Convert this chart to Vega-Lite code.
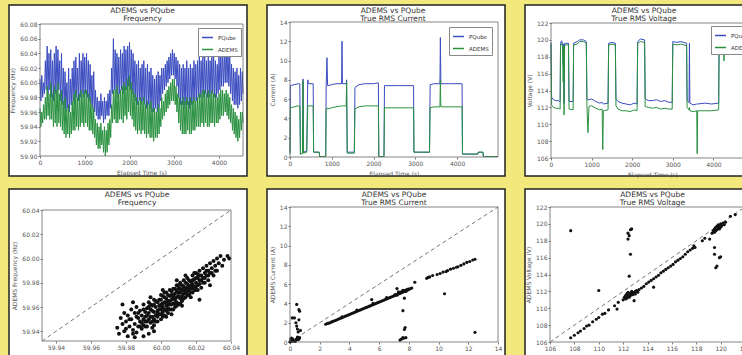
{
"$schema": "https://vega.github.io/schema/vega-lite/v6.json",
"background": "#f3e87b",
"padding": {"left": 8, "top": 4, "right": 0, "bottom": 0},
"config": {
 "view": {"fill": "white", "stroke": "#222", "strokeWidth": 1.5},
 "title": {"fontSize": 7.5, "font": "DejaVu Sans", "fontWeight": "normal", "color": "#333", "lineHeight": 7.5, "frame": "group", "anchor": "middle"},
 "axis": {"labelFont": "DejaVu Sans", "labelFontSize": 6, "labelColor": "#555", "titleFont": "DejaVu Sans", "titleFontSize": 6, "titleFontWeight": "normal", "titleColor": "#555", "domain": false, "grid": false, "tickColor": "#777", "tickSize": 2, "labelPadding": 1, "titlePadding": 4, "labelFlush": false, "labelOverlap": false},
 "legend": {"labelFont": "DejaVu Sans", "labelFontSize": 5.5, "labelColor": "#333", "symbolType": "stroke", "symbolStrokeWidth": 1.5, "symbolSize": 120, "fillColor": "white", "strokeColor": "#888", "padding": 3, "rowPadding": 2}
},
"datasets": {
 "freq": [
{"t":0,"P":60.005,"A":59.965},{"t":20,"P":59.975,"A":59.94},{"t":40,"P":60.01,"A":59.96},{"t":60,"P":59.98,"A":59.945},{"t":80,"P":60.0,"A":59.97},{"t":100,"P":59.985,"A":59.95},{"t":120,"P":60.03,"A":59.98},{"t":140,"P":59.99,"A":59.95},{"t":160,"P":60.05,"A":59.995},{"t":180,"P":59.985,"A":59.955},{"t":200,"P":60.04,"A":59.985},{"t":220,"P":59.99,"A":59.95},{"t":240,"P":60.045,"A":60.0},{"t":260,"P":59.98,"A":59.95},{"t":280,"P":60.03,"A":59.985},{"t":300,"P":59.975,"A":59.94},{"t":320,"P":60.04,"A":59.995},{"t":340,"P":59.985,"A":59.945},{"t":360,"P":60.05,"A":59.99},{"t":380,"P":59.98,"A":59.94},{"t":400,"P":60.045,"A":60.0},{"t":420,"P":59.99,"A":59.945},{"t":440,"P":60.03,"A":59.985},{"t":460,"P":59.975,"A":59.94},{"t":480,"P":60.04,"A":59.99},{"t":500,"P":59.97,"A":59.935},{"t":520,"P":60.02,"A":59.975},{"t":540,"P":59.965,"A":59.93},{"t":560,"P":60.015,"A":59.98},{"t":580,"P":59.96,"A":59.925},{"t":600,"P":60.0,"A":59.965},{"t":620,"P":59.965,"A":59.93},{"t":640,"P":60.02,"A":59.97},{"t":660,"P":59.96,"A":59.925},{"t":680,"P":60.005,"A":59.96},{"t":700,"P":59.97,"A":59.93},{"t":720,"P":60.02,"A":59.975},{"t":740,"P":59.975,"A":59.935},{"t":760,"P":60.03,"A":59.985},{"t":780,"P":59.97,"A":59.935},{"t":800,"P":60.035,"A":59.99},{"t":820,"P":59.98,"A":59.94},{"t":840,"P":60.02,"A":59.98},{"t":860,"P":59.975,"A":59.935},{"t":880,"P":60.04,"A":59.985},{"t":900,"P":59.98,"A":59.94},{"t":920,"P":60.03,"A":59.99},{"t":940,"P":59.985,"A":59.945},{"t":960,"P":60.04,"A":59.985},{"t":980,"P":59.98,"A":59.94},{"t":1000,"P":60.035,"A":59.99},{"t":1020,"P":59.985,"A":59.945},{"t":1040,"P":60.04,"A":59.99},{"t":1060,"P":59.98,"A":59.94},{"t":1080,"P":60.03,"A":59.985},{"t":1100,"P":59.975,"A":59.935},{"t":1120,"P":60.025,"A":59.98},{"t":1140,"P":59.97,"A":59.935},{"t":1160,"P":60.01,"A":59.97},{"t":1180,"P":59.965,"A":59.93},{"t":1200,"P":60.015,"A":59.965},{"t":1220,"P":59.96,"A":59.925},{"t":1240,"P":59.99,"A":59.95},{"t":1260,"P":59.955,"A":59.915},{"t":1280,"P":59.98,"A":59.945},{"t":1300,"P":59.95,"A":59.91},{"t":1320,"P":59.975,"A":59.94},{"t":1340,"P":59.95,"A":59.91},{"t":1360,"P":59.985,"A":59.945},{"t":1380,"P":59.955,"A":59.915},{"t":1400,"P":59.975,"A":59.935},{"t":1420,"P":59.945,"A":59.905},{"t":1440,"P":59.98,"A":59.94},{"t":1460,"P":59.95,"A":59.9},{"t":1480,"P":59.975,"A":59.935},{"t":1500,"P":59.955,"A":59.905},{"t":1520,"P":59.985,"A":59.945},{"t":1540,"P":59.955,"A":59.915},{"t":1560,"P":59.99,"A":59.95},{"t":1580,"P":59.965,"A":59.925},{"t":1600,"P":60.02,"A":59.97},{"t":1620,"P":59.985,"A":59.945},{"t":1640,"P":60.06,"A":59.99},{"t":1660,"P":59.99,"A":59.95},{"t":1680,"P":60.045,"A":59.99},{"t":1700,"P":59.985,"A":59.945},{"t":1720,"P":60.04,"A":59.995},{"t":1740,"P":59.98,"A":59.945},{"t":1760,"P":60.035,"A":59.985},{"t":1780,"P":59.985,"A":59.95},{"t":1800,"P":60.045,"A":59.99},{"t":1820,"P":59.99,"A":59.95},{"t":1840,"P":60.04,"A":59.995},{"t":1860,"P":59.985,"A":59.945},{"t":1880,"P":60.05,"A":60.0},{"t":1900,"P":59.99,"A":59.955},{"t":1920,"P":60.045,"A":59.995},{"t":1940,"P":59.99,"A":59.95},{"t":1960,"P":60.05,"A":60.005},{"t":1980,"P":59.995,"A":59.96},{"t":2000,"P":60.055,"A":60.01},{"t":2020,"P":59.99,"A":59.955},{"t":2040,"P":60.045,"A":60.0},{"t":2060,"P":59.985,"A":59.95},{"t":2080,"P":60.04,"A":59.99},{"t":2100,"P":59.98,"A":59.94},{"t":2120,"P":60.03,"A":59.985},{"t":2140,"P":59.975,"A":59.935},{"t":2160,"P":60.025,"A":59.98},{"t":2180,"P":59.97,"A":59.93},{"t":2200,"P":60.03,"A":59.975},{"t":2220,"P":59.975,"A":59.935},{"t":2240,"P":60.02,"A":59.98},{"t":2260,"P":59.97,"A":59.93},{"t":2280,"P":60.025,"A":59.975},{"t":2300,"P":59.975,"A":59.935},{"t":2320,"P":60.03,"A":59.98},{"t":2340,"P":59.97,"A":59.93},{"t":2360,"P":60.02,"A":59.97},{"t":2380,"P":59.965,"A":59.925},{"t":2400,"P":60.025,"A":59.975},{"t":2420,"P":59.97,"A":59.93},{"t":2440,"P":60.015,"A":59.97},{"t":2460,"P":59.965,"A":59.925},{"t":2480,"P":60.02,"A":59.975},{"t":2500,"P":59.96,"A":59.925},{"t":2520,"P":60.01,"A":59.965},{"t":2540,"P":59.96,"A":59.92},{"t":2560,"P":60.005,"A":59.965},{"t":2580,"P":59.965,"A":59.925},{"t":2600,"P":60.01,"A":59.96},{"t":2620,"P":59.96,"A":59.925},{"t":2640,"P":60.015,"A":59.97},{"t":2660,"P":59.965,"A":59.93},{"t":2680,"P":60.01,"A":59.965},{"t":2700,"P":59.975,"A":59.94},{"t":2720,"P":60.02,"A":59.98},{"t":2740,"P":59.985,"A":59.95},{"t":2760,"P":60.02,"A":59.975},{"t":2780,"P":59.99,"A":59.955},{"t":2800,"P":60.025,"A":59.985},{"t":2820,"P":59.995,"A":59.96},{"t":2840,"P":60.03,"A":59.99},{"t":2860,"P":60.0,"A":59.965},{"t":2880,"P":60.035,"A":59.995},{"t":2900,"P":60.005,"A":59.97},{"t":2920,"P":60.04,"A":60.0},{"t":2940,"P":60.01,"A":59.975},{"t":2960,"P":60.045,"A":60.005},{"t":2980,"P":60.01,"A":59.975},{"t":3000,"P":60.04,"A":60.005},{"t":3020,"P":60.005,"A":59.97},{"t":3040,"P":60.035,"A":59.995},{"t":3060,"P":59.995,"A":59.96},{"t":3080,"P":60.03,"A":59.985},{"t":3100,"P":59.98,"A":59.945},{"t":3120,"P":60.025,"A":59.98},{"t":3140,"P":59.97,"A":59.935},{"t":3160,"P":60.02,"A":59.975},{"t":3180,"P":59.97,"A":59.93},{"t":3200,"P":60.025,"A":59.98},{"t":3220,"P":59.965,"A":59.93},{"t":3240,"P":60.02,"A":59.975},{"t":3260,"P":59.97,"A":59.93},{"t":3280,"P":60.03,"A":59.98},{"t":3300,"P":59.97,"A":59.935},{"t":3320,"P":60.02,"A":59.975},{"t":3340,"P":59.965,"A":59.93},{"t":3360,"P":60.025,"A":59.98},{"t":3380,"P":59.97,"A":59.93},{"t":3400,"P":60.02,"A":59.975},{"t":3420,"P":59.97,"A":59.935},{"t":3440,"P":60.03,"A":59.98},{"t":3460,"P":59.975,"A":59.935},{"t":3480,"P":60.025,"A":59.975},{"t":3500,"P":59.975,"A":59.94},{"t":3520,"P":60.03,"A":59.98},{"t":3540,"P":59.98,"A":59.94},{"t":3560,"P":60.035,"A":59.985},{"t":3580,"P":59.98,"A":59.94},{"t":3600,"P":60.03,"A":59.985},{"t":3620,"P":59.985,"A":59.945},{"t":3640,"P":60.035,"A":59.99},{"t":3660,"P":59.98,"A":59.94},{"t":3680,"P":60.04,"A":59.99},{"t":3700,"P":59.985,"A":59.945},{"t":3720,"P":60.03,"A":59.985},{"t":3740,"P":59.98,"A":59.94},{"t":3760,"P":60.035,"A":59.99},{"t":3780,"P":59.98,"A":59.94},{"t":3800,"P":60.03,"A":59.985},{"t":3820,"P":59.985,"A":59.945},{"t":3840,"P":60.04,"A":59.99},{"t":3860,"P":59.985,"A":59.945},{"t":3880,"P":60.035,"A":59.985},{"t":3900,"P":59.98,"A":59.94},{"t":3920,"P":60.03,"A":59.985},{"t":3940,"P":59.98,"A":59.945},{"t":3960,"P":60.025,"A":59.98},{"t":3980,"P":59.985,"A":59.945},{"t":4000,"P":60.035,"A":59.985},{"t":4020,"P":59.99,"A":59.95},{"t":4040,"P":60.04,"A":59.99},{"t":4060,"P":59.995,"A":59.955},{"t":4080,"P":60.045,"A":59.99},{"t":4100,"P":59.995,"A":59.955},{"t":4120,"P":60.04,"A":59.985},{"t":4140,"P":60.0,"A":59.96},{"t":4160,"P":60.05,"A":59.99},{"t":4180,"P":60.0,"A":59.955},{"t":4200,"P":60.045,"A":59.985},{"t":4220,"P":59.995,"A":59.95},{"t":4240,"P":60.04,"A":59.98},{"t":4260,"P":59.985,"A":59.945},{"t":4280,"P":60.025,"A":59.97},{"t":4300,"P":59.975,"A":59.935},{"t":4320,"P":60.02,"A":59.965},{"t":4340,"P":59.97,"A":59.93},{"t":4360,"P":60.015,"A":59.96},{"t":4380,"P":59.97,"A":59.925},{"t":4400,"P":60.02,"A":59.955},{"t":4420,"P":59.965,"A":59.92},{"t":4440,"P":60.01,"A":59.95},{"t":4460,"P":59.97,"A":59.925},{"t":4480,"P":60.02,"A":59.96},{"t":4500,"P":59.975,"A":59.935},{"t":4520,"P":60.015,"A":59.96},{"t":4536,"P":59.985,"A":59.945}
 ],
 "curr": [
{"t":0,"P":0.5,"A":0.3},{"t":10,"P":7.4,"A":5.1},{"t":100,"P":7.5,"A":5.2},{"t":200,"P":7.6,"A":5.3},{"t":235,"P":7.6,"A":5.3},{"t":250,"P":0.3,"A":0.3},{"t":300,"P":0.4,"A":0.4},{"t":312,"P":8.1,"A":7.9},{"t":325,"P":0.5,"A":0.4},{"t":400,"P":0.6,"A":0.5},{"t":425,"P":8.0,"A":5.3},{"t":440,"P":7.6,"A":5.3},{"t":555,"P":7.6,"A":5.3},{"t":565,"P":0.5,"A":0.5},{"t":700,"P":0.5,"A":0.5},{"t":710,"P":0.05,"A":0.05},{"t":855,"P":0.05,"A":0.05},{"t":866,"P":7.4,"A":5.0},{"t":885,"P":10.3,"A":5.1},{"t":900,"P":7.4,"A":5.0},{"t":1000,"P":7.5,"A":5.1},{"t":1100,"P":7.6,"A":5.2},{"t":1235,"P":7.6,"A":5.3},{"t":1245,"P":12.0,"A":5.3},{"t":1255,"P":7.6,"A":5.3},{"t":1345,"P":7.6,"A":5.3},{"t":1355,"P":8.0,"A":7.8},{"t":1370,"P":0.5,"A":0.4},{"t":1540,"P":0.5,"A":0.4},{"t":1555,"P":7.2,"A":5.0},{"t":1650,"P":7.5,"A":5.2},{"t":1800,"P":7.6,"A":5.3},{"t":2000,"P":7.6,"A":5.3},{"t":2116,"P":7.7,"A":5.3},{"t":2126,"P":0.05,"A":0.05},{"t":2250,"P":0.05,"A":0.05},{"t":2262,"P":7.4,"A":5.1},{"t":2600,"P":7.4,"A":5.1},{"t":2958,"P":7.4,"A":5.1},{"t":2968,"P":0.5,"A":0.5},{"t":3340,"P":0.5,"A":0.5},{"t":3355,"P":7.5,"A":5.1},{"t":3450,"P":7.6,"A":5.2},{"t":3590,"P":7.6,"A":5.2},{"t":3600,"P":12.4,"A":8.0},{"t":3612,"P":7.6,"A":5.2},{"t":3800,"P":7.6,"A":5.2},{"t":4120,"P":7.6,"A":5.2},{"t":4130,"P":0.3,"A":0.3},{"t":4500,"P":0.3,"A":0.3},{"t":4510,"P":0.5,"A":0.5},{"t":4620,"P":0.5,"A":0.5},{"t":4630,"P":0.05,"A":0.05},{"t":4980,"P":0.05,"A":0.05}
 ],
 "volt": [
{"t":0,"P":119.7,"A":119.5},{"t":15,"P":113.2,"A":112.3},{"t":60,"P":112.9,"A":112.0},{"t":120,"P":112.8,"A":111.9},{"t":180,"P":112.8,"A":111.9},{"t":225,"P":112.7,"A":111.8},{"t":235,"P":119.6,"A":119.3},{"t":260,"P":119.9,"A":119.6},{"t":285,"P":119.6,"A":119.3},{"t":300,"P":117.0,"A":115.0},{"t":310,"P":119.5,"A":119.2},{"t":322,"P":112.5,"A":111.1},{"t":335,"P":119.6,"A":119.4},{"t":430,"P":119.6,"A":119.4},{"t":445,"P":112.7,"A":111.8},{"t":545,"P":112.7,"A":111.7},{"t":557,"P":119.6,"A":119.4},{"t":650,"P":119.8,"A":119.5},{"t":700,"P":120.0,"A":119.8},{"t":800,"P":120.0,"A":119.8},{"t":870,"P":119.8,"A":119.6},{"t":885,"P":113.0,"A":112.2},{"t":910,"P":112.9,"A":109.0},{"t":935,"P":112.9,"A":112.1},{"t":1000,"P":113.0,"A":112.2},{"t":1100,"P":112.7,"A":111.9},{"t":1200,"P":112.5,"A":111.7},{"t":1260,"P":112.6,"A":111.8},{"t":1275,"P":112.5,"A":107.0},{"t":1290,"P":112.4,"A":111.6},{"t":1405,"P":112.5,"A":111.7},{"t":1420,"P":119.6,"A":119.4},{"t":1500,"P":119.7,"A":119.5},{"t":1585,"P":119.6,"A":119.4},{"t":1600,"P":113.0,"A":112.2},{"t":1650,"P":112.7,"A":111.8},{"t":1750,"P":112.5,"A":111.6},{"t":1850,"P":112.4,"A":111.6},{"t":1950,"P":112.3,"A":111.5},{"t":2050,"P":112.5,"A":111.7},{"t":2120,"P":112.4,"A":111.6},{"t":2135,"P":119.8,"A":119.6},{"t":2200,"P":120.1,"A":119.8},{"t":2305,"P":120.0,"A":119.7},{"t":2320,"P":113.0,"A":112.1},{"t":2400,"P":112.8,"A":112.0},{"t":2500,"P":112.8,"A":111.9},{"t":2600,"P":112.9,"A":112.0},{"t":2700,"P":112.7,"A":111.8},{"t":2800,"P":112.8,"A":111.9},{"t":2900,"P":112.6,"A":111.8},{"t":2985,"P":112.6,"A":111.8},{"t":3000,"P":119.8,"A":119.5},{"t":3100,"P":119.7,"A":119.4},{"t":3200,"P":119.8,"A":119.5},{"t":3340,"P":119.6,"A":119.3},{"t":3352,"P":112.8,"A":112.0},{"t":3400,"P":112.6,"A":111.7},{"t":3410,"P":119.6,"A":112.0},{"t":3420,"P":112.5,"A":111.6},{"t":3500,"P":112.3,"A":111.5},{"t":3590,"P":112.4,"A":111.6},{"t":3600,"P":112.4,"A":106.5},{"t":3612,"P":112.4,"A":111.6},{"t":3800,"P":112.5,"A":111.6},{"t":3950,"P":112.4,"A":111.6},{"t":4130,"P":112.5,"A":111.7},{"t":4140,"P":119.6,"A":119.4},{"t":4250,"P":119.7,"A":119.5},{"t":4260,"P":119.7,"A":117.5},{"t":4270,"P":119.7,"A":119.5},{"t":4500,"P":119.7,"A":119.5},{"t":4510,"P":119.9,"A":119.7},{"t":4620,"P":119.9,"A":119.7},{"t":4630,"P":120.0,"A":119.8},{"t":5000,"P":120.0,"A":119.8}
 ],
 "fs": [
{"x":59.975,"y":59.943},{"x":59.976,"y":59.938},{"x":59.977,"y":59.951},{"x":59.978,"y":59.946},{"x":59.979,"y":59.955},{"x":59.979,"y":59.940},{"x":59.980,"y":59.948},{"x":59.981,"y":59.953},{"x":59.981,"y":59.936},{"x":59.982,"y":59.944},{"x":59.983,"y":59.958},{"x":59.983,"y":59.950},{"x":59.984,"y":59.941},{"x":59.985,"y":59.946},{"x":59.985,"y":59.955},{"x":59.986,"y":59.960},{"x":59.986,"y":59.939},{"x":59.987,"y":59.951},{"x":59.987,"y":59.944},{"x":59.988,"y":59.957},{"x":59.988,"y":59.948},{"x":59.989,"y":59.953},{"x":59.989,"y":59.942},{"x":59.990,"y":59.962},{"x":59.990,"y":59.950},{"x":59.990,"y":59.945},{"x":59.991,"y":59.956},{"x":59.991,"y":59.948},{"x":59.992,"y":59.953},{"x":59.992,"y":59.959},{"x":59.992,"y":59.944},{"x":59.993,"y":59.950},{"x":59.993,"y":59.964},{"x":59.993,"y":59.955},{"x":59.994,"y":59.947},{"x":59.994,"y":59.958},{"x":59.995,"y":59.952},{"x":59.995,"y":59.961},{"x":59.995,"y":59.943},{"x":59.996,"y":59.956},{"x":59.996,"y":59.966},{"x":59.996,"y":59.950},{"x":59.997,"y":59.960},{"x":59.997,"y":59.953},{"x":59.998,"y":59.957},{"x":59.998,"y":59.948},{"x":59.998,"y":59.964},{"x":59.999,"y":59.961},{"x":59.999,"y":59.954},{"x":60.000,"y":59.958},{"x":60.000,"y":59.966},{"x":60.000,"y":59.950},{"x":60.000,"y":59.962},{"x":60.001,"y":59.956},{"x":60.001,"y":59.969},{"x":60.001,"y":59.960},{"x":60.002,"y":59.964},{"x":60.002,"y":59.953},{"x":60.002,"y":59.958},{"x":60.003,"y":59.967},{"x":60.003,"y":59.961},{"x":60.003,"y":59.972},{"x":60.004,"y":59.959},{"x":60.004,"y":59.965},{"x":60.004,"y":59.955},{"x":60.005,"y":59.969},{"x":60.005,"y":59.962},{"x":60.005,"y":59.974},{"x":60.006,"y":59.966},{"x":60.006,"y":59.958},{"x":60.006,"y":59.970},{"x":60.007,"y":59.963},{"x":60.007,"y":59.975},{"x":60.007,"y":59.968},{"x":60.008,"y":59.960},{"x":60.008,"y":59.971},{"x":60.008,"y":59.966},{"x":60.009,"y":59.973},{"x":60.009,"y":59.964},{"x":60.009,"y":59.978},{"x":60.010,"y":59.969},{"x":60.010,"y":59.975},{"x":60.010,"y":59.962},{"x":60.011,"y":59.972},{"x":60.011,"y":59.967},{"x":60.011,"y":59.980},{"x":60.012,"y":59.974},{"x":60.012,"y":59.969},{"x":60.012,"y":59.965},{"x":60.013,"y":59.977},{"x":60.013,"y":59.971},{"x":60.013,"y":59.982},{"x":60.014,"y":59.975},{"x":60.014,"y":59.968},{"x":60.015,"y":59.979},{"x":60.015,"y":59.973},{"x":60.015,"y":59.984},{"x":60.016,"y":59.977},{"x":60.016,"y":59.970},{"x":60.017,"y":59.981},{"x":60.017,"y":59.975},{"x":60.018,"y":59.986},{"x":60.018,"y":59.979},{"x":60.018,"y":59.972},{"x":60.019,"y":59.983},{"x":60.019,"y":59.977},{"x":60.020,"y":59.988},{"x":60.020,"y":59.980},{"x":60.020,"y":59.974},{"x":60.021,"y":59.984},{"x":60.021,"y":59.978},{"x":60.022,"y":59.990},{"x":60.022,"y":59.982},{"x":60.023,"y":59.986},{"x":60.023,"y":59.976},{"x":60.024,"y":59.992},{"x":60.024,"y":59.984},{"x":60.025,"y":59.988},{"x":60.025,"y":59.980},{"x":60.026,"y":59.994},{"x":60.026,"y":59.986},{"x":60.027,"y":59.990},{"x":60.027,"y":59.982},{"x":60.028,"y":59.996},{"x":60.028,"y":59.988},{"x":60.029,"y":59.992},{"x":60.030,"y":59.998},{"x":60.030,"y":59.986},{"x":60.031,"y":59.994},{"x":60.032,"y":60.000},{"x":60.032,"y":59.990},{"x":60.033,"y":59.996},{"x":60.034,"y":60.002},{"x":60.035,"y":59.994},{"x":60.036,"y":59.999},{"x":60.038,"y":60.002},{"x":60.039,"y":60.000},{"x":60.022,"y":59.966},{"x":60.028,"y":59.978},{"x":59.993,"y":59.938},{"x":59.985,"y":59.935},{"x":59.990,"y":59.936},{"x":59.978,"y":59.962},{"x":59.984,"y":59.964},{"x":59.995,"y":59.957},{"x":59.996,"y":59.962},{"x":59.997,"y":59.948},{"x":59.998,"y":59.955},{"x":59.999,"y":59.966},{"x":60.000,"y":59.954},{"x":60.001,"y":59.963},{"x":60.002,"y":59.968},{"x":60.003,"y":59.957},{"x":60.004,"y":59.970},{"x":60.005,"y":59.965},{"x":60.006,"y":59.962},{"x":60.007,"y":59.958},{"x":60.008,"y":59.975},{"x":60.009,"y":59.968},{"x":60.010,"y":59.972},{"x":60.011,"y":59.963},{"x":60.012,"y":59.978},{"x":60.013,"y":59.967},{"x":60.014,"y":59.980},{"x":60.015,"y":59.970},{"x":60.016,"y":59.982},{"x":60.017,"y":59.972},{"x":60.018,"y":59.976},{"x":60.019,"y":59.988},{"x":60.020,"y":59.984},{"x":60.021,"y":59.974},{"x":60.022,"y":59.986},{"x":59.991,"y":59.952},{"x":59.989,"y":59.947},{"x":59.987,"y":59.955},{"x":59.994,"y":59.962},{"x":59.992,"y":59.948},{"x":59.996,"y":59.945},{"x":60.000,"y":59.970},{"x":60.003,"y":59.952},
{"x":59.986,"y":59.952},{"x":59.988,"y":59.944},{"x":59.990,"y":59.958},{"x":59.991,"y":59.944},{"x":59.993,"y":59.960},{"x":59.994,"y":59.952},{"x":59.995,"y":59.948},{"x":59.997,"y":59.965},{"x":59.998,"y":59.952},{"x":59.999,"y":59.958},{"x":60.000,"y":59.961},{"x":60.001,"y":59.952},{"x":60.002,"y":59.972},{"x":60.003,"y":59.964},{"x":60.004,"y":59.962},{"x":60.005,"y":59.958},{"x":60.006,"y":59.973},{"x":60.007,"y":59.970},{"x":60.008,"y":59.963},{"x":60.009,"y":59.961},{"x":60.010,"y":59.978},{"x":60.011,"y":59.975},{"x":60.012,"y":59.961},{"x":60.013,"y":59.974},{"x":60.014,"y":59.972},{"x":60.015,"y":59.976},{"x":60.016,"y":59.974},{"x":60.017,"y":59.978},{"x":60.018,"y":59.982},{"x":60.019,"y":59.974},{"x":60.020,"y":59.977},{"x":60.021,"y":59.987},{"x":60.022,"y":59.979},{"x":60.023,"y":59.982},{"x":60.024,"y":59.980},{"x":60.025,"y":59.984},{"x":60.026,"y":59.990},{"x":60.027,"y":59.986},{"x":60.029,"y":59.988},{"x":60.031,"y":59.990},{"x":59.982,"y":59.950},{"x":59.980,"y":59.942},{"x":59.984,"y":59.938},{"x":59.996,"y":59.940},{"x":60.006,"y":59.954},{"x":60.009,"y":59.982},{"x":60.001,"y":59.974},{"x":59.994,"y":59.968},{"x":60.014,"y":59.986},{"x":60.017,"y":59.968}
 ],
 "cs": [
{"x":2.4,"y":1.84},{"x":2.6,"y":1.95},{"x":2.8,"y":2.08},{"x":3.0,"y":2.2},{"x":3.2,"y":2.33},{"x":3.4,"y":2.46},{"x":3.6,"y":2.59},{"x":3.8,"y":2.72},{"x":4.0,"y":2.85},{"x":4.2,"y":2.98},{"x":4.4,"y":3.11},{"x":4.6,"y":3.24},{"x":4.8,"y":3.37},{"x":5.0,"y":3.5},{"x":5.2,"y":3.62},{"x":5.4,"y":3.75},{"x":5.6,"y":3.88},{"x":5.8,"y":4.01},{"x":6.0,"y":4.14},{"x":6.2,"y":4.27},{"x":6.4,"y":4.4},{"x":6.6,"y":4.53},{"x":6.8,"y":4.66},{"x":7.0,"y":4.79},{"x":7.1,"y":4.85},{"x":7.2,"y":4.92},{"x":7.3,"y":4.98},{"x":7.4,"y":5.05},{"x":7.45,"y":5.1},{"x":7.5,"y":5.12},{"x":7.55,"y":5.16},{"x":7.6,"y":5.2},{"x":7.65,"y":5.22},{"x":7.7,"y":5.27},{"x":7.75,"y":5.3},{"x":7.8,"y":5.33},{"x":7.85,"y":5.37},{"x":7.9,"y":5.4},{"x":7.95,"y":5.43},{"x":8.0,"y":5.46},{"x":8.1,"y":5.53},{"x":8.2,"y":5.6},{"x":2.5,"y":1.92},{"x":2.7,"y":2.0},{"x":2.9,"y":2.14},{"x":3.1,"y":2.26},{"x":3.3,"y":2.40},{"x":3.5,"y":2.52},{"x":3.7,"y":2.66},{"x":3.9,"y":2.78},{"x":4.1,"y":2.92},{"x":4.3,"y":3.04},{"x":4.5,"y":3.18},{"x":4.7,"y":3.3},{"x":4.9,"y":3.44},{"x":5.1,"y":3.56},{"x":5.3,"y":3.69},{"x":5.5,"y":3.82},{"x":5.7,"y":3.94},{"x":5.9,"y":4.08},{"x":6.1,"y":4.2},{"x":6.3,"y":4.33},{"x":6.5,"y":4.46},{"x":6.7,"y":4.6},{"x":6.9,"y":4.72},{"x":7.05,"y":4.9},{"x":7.15,"y":4.95},{"x":7.35,"y":5.08},{"x":7.45,"y":5.15},{"x":7.55,"y":5.25},{"x":7.65,"y":5.3},{"x":7.75,"y":5.35},{"x":7.85,"y":5.42},{"x":7.95,"y":5.5},{"x":7.3,"y":5.2},{"x":7.6,"y":5.35},{"x":7.8,"y":5.25},{"x":7.2,"y":4.85},{"x":3.5,"y":2.62},{"x":4.5,"y":3.3},{"x":5.6,"y":4.0},{"x":5.5,"y":4.4},{"x":6.5,"y":4.6},{"x":7.2,"y":5.54},{"x":9.2,"y":6.6},{"x":9.4,"y":6.75},{"x":9.6,"y":6.9},{"x":9.9,"y":7.0},{"x":10.1,"y":7.1},{"x":10.3,"y":7.25},{"x":10.6,"y":7.4},{"x":10.8,"y":7.55},{"x":11.0,"y":7.65},{"x":11.3,"y":7.8},{"x":11.5,"y":7.95},{"x":11.7,"y":8.1},{"x":11.9,"y":8.25},{"x":12.1,"y":8.35},{"x":12.3,"y":8.5},{"x":12.45,"y":8.58},{"x":9.3,"y":6.7},{"x":10.5,"y":7.3},{"x":11.2,"y":7.75},{"x":0.02,"y":0.05},{"x":0.05,"y":0.1},{"x":0.1,"y":0.2},{"x":0.15,"y":0.05},{"x":0.2,"y":0.3},{"x":0.3,"y":0.1},{"x":0.35,"y":0.05},{"x":0.4,"y":0.2},{"x":0.45,"y":0.3},{"x":0.5,"y":0.35},{"x":0.55,"y":0.4},{"x":0.6,"y":0.3},{"x":0.65,"y":0.45},{"x":0.5,"y":0.5},{"x":0.55,"y":0.25},{"x":0.0,"y":0.0},{"x":0.05,"y":0.3},{"x":0.1,"y":0.4},{"x":0.45,"y":3.9},{"x":0.6,"y":3.35},{"x":0.65,"y":3.2},{"x":0.6,"y":2.3},{"x":0.3,"y":2.5},{"x":0.15,"y":2.5},{"x":0.45,"y":1.65},{"x":0.5,"y":1.35},{"x":0.55,"y":1.05},{"x":0.4,"y":2.0},{"x":0.7,"y":1.2},{"x":7.7,"y":4.55},{"x":7.6,"y":3.25},{"x":7.75,"y":1.5},{"x":7.7,"y":1.3},{"x":7.5,"y":0.3},{"x":7.6,"y":0.45},{"x":7.4,"y":0.2},{"x":7.8,"y":0.45},{"x":7.65,"y":0.4},{"x":10.4,"y":5.0},{"x":12.45,"y":1.0},{"x":8.4,"y":6.2}
 ],
 "vs": [
{"x":107.7,"y":106.5},{"x":108.0,"y":106.8},{"x":108.3,"y":107.1},{"x":108.5,"y":107.3},{"x":108.8,"y":107.6},{"x":109.0,"y":107.9},{"x":109.2,"y":108.0},{"x":109.5,"y":108.4},{"x":109.8,"y":108.7},{"x":110.0,"y":108.9},{"x":110.3,"y":109.3},{"x":110.5,"y":109.4},{"x":110.8,"y":109.8},{"x":111.5,"y":109.9},{"x":111.3,"y":110.3},{"x":111.6,"y":110.7},{"x":112.0,"y":111.0},{"x":112.1,"y":111.3},{"x":112.2,"y":111.1},{"x":112.2,"y":111.5},{"x":112.3,"y":111.2},{"x":112.3,"y":111.7},{"x":112.4,"y":111.4},{"x":112.4,"y":111.9},{"x":112.5,"y":111.3},{"x":112.5,"y":111.6},{"x":112.6,"y":111.8},{"x":112.6,"y":111.5},{"x":112.7,"y":111.7},{"x":112.7,"y":112.0},{"x":112.8,"y":111.6},{"x":112.8,"y":111.9},{"x":112.9,"y":111.8},{"x":113.0,"y":112.0},{"x":113.0,"y":111.7},{"x":113.1,"y":112.1},{"x":113.2,"y":111.9},{"x":113.3,"y":112.2},{"x":113.5,"y":112.4},{"x":113.7,"y":112.6},{"x":113.9,"y":112.9},{"x":114.1,"y":113.1},{"x":114.3,"y":113.3},{"x":114.5,"y":113.5},{"x":114.7,"y":113.7},{"x":114.9,"y":113.9},{"x":115.1,"y":114.2},{"x":115.3,"y":114.4},{"x":115.5,"y":114.6},{"x":115.7,"y":114.8},{"x":115.9,"y":115.0},{"x":116.1,"y":115.2},{"x":116.3,"y":115.5},{"x":116.5,"y":115.7},{"x":116.7,"y":115.9},{"x":116.9,"y":116.1},{"x":117.1,"y":116.4},{"x":117.3,"y":116.7},{"x":117.5,"y":116.9},{"x":117.7,"y":117.1},{"x":117.8,"y":117.4},{"x":117.9,"y":117.2},{"x":118.5,"y":118.0},{"x":118.7,"y":118.3},{"x":119.1,"y":118.2},{"x":119.3,"y":118.9},{"x":119.4,"y":119.2},{"x":119.5,"y":119.0},{"x":119.5,"y":119.4},{"x":119.6,"y":119.2},{"x":119.6,"y":119.6},{"x":119.7,"y":119.3},{"x":119.7,"y":119.7},{"x":119.8,"y":119.5},{"x":119.8,"y":119.9},{"x":119.9,"y":119.4},{"x":119.9,"y":119.7},{"x":120.0,"y":119.6},{"x":120.0,"y":120.0},{"x":120.1,"y":119.8},{"x":120.2,"y":120.1},{"x":120.3,"y":119.9},{"x":120.4,"y":120.2},{"x":120.8,"y":120.9},{"x":121.2,"y":121.1},{"x":107.7,"y":119.2},{"x":110.0,"y":112.1},{"x":112.4,"y":118.9},{"x":112.5,"y":118.6},{"x":112.6,"y":119.3},{"x":112.7,"y":119.4},{"x":112.4,"y":118.2},{"x":112.6,"y":116.4},{"x":112.5,"y":113.8},{"x":114.5,"y":112.5},{"x":112.9,"y":110.9},{"x":119.5,"y":117.2},{"x":119.5,"y":116.4},{"x":119.6,"y":114.8},{"x":119.7,"y":115.0},{"x":119.9,"y":116.0},{"x":120.0,"y":116.1}
 ]
},
"bounds": "full",
"spacing": 10,
"resolve": {"scale": {"color": "independent"}, "legend": {"color": "independent"}},
"vconcat": [
 {"hconcat": [
  {"width": 238, "height": 171,
   "title": {"text": ["ADEMS vs PQube", "Frequency"], "dx": 14.5, "offset": -17},
   "data": {"name": "freq"},
   "layer": [
    {"mark": {"type": "line", "strokeWidth": 1},
     "encoding": {
      "x": {"field": "t", "type": "quantitative", "scale": {"domain": [0, 4536], "range": [31, 234], "nice": false, "zero": false}, "axis": {"offset": -20, "title": "Elapsed Time (s)", "values": [0, 1000, 2000, 3000, 4000], "format": "d"}},
      "y": {"field": "P", "type": "quantitative", "scale": {"domain": [59.9, 60.08], "range": [151, 19], "nice": false, "zero": false}, "axis": {"offset": -31, "title": "Frequency (Hz)", "values": [59.9, 59.92, 59.94, 59.96, 59.98, 60.0, 60.02, 60.04, 60.06, 60.08], "format": ".2f"}},
      "color": {"datum": "PQube", "scale": {"domain": ["PQube", "ADEMS"], "range": ["#3a4cc0", "#2a9140"]}, "legend": {"title": null, "orient": "none", "legendX": 189, "legendY": 23}}
     }},
    {"mark": {"type": "line", "strokeWidth": 1},
     "encoding": {
      "x": {"field": "t", "type": "quantitative", "axis": {"offset": -20, "title": "Elapsed Time (s)", "values": [0, 1000, 2000, 3000, 4000], "format": "d"}},
      "y": {"field": "A", "type": "quantitative", "axis": {"offset": -31, "title": "Frequency (Hz)", "values": [59.9, 59.92, 59.94, 59.96, 59.98, 60.0, 60.02, 60.04, 60.06, 60.08], "format": ".2f"}},
      "color": {"datum": "ADEMS"}
     }},
    {"data": {"values": [{}]},
     "mark": {"type": "rect", "fillOpacity": 0, "stroke": "#666", "strokeWidth": 0.8},
     "encoding": {"x": {"datum": 0, "axis": {"offset": -20, "title": "Elapsed Time (s)", "values": [0, 1000, 2000, 3000, 4000], "format": "d"}}, "x2": {"datum": 4536}, "y": {"datum": 59.9, "axis": {"offset": -31, "title": "Frequency (Hz)", "values": [59.9, 59.92, 59.94, 59.96, 59.98, 60.0, 60.02, 60.04, 60.06, 60.08], "format": ".2f"}}, "y2": {"datum": 60.08}}}
   ]},
  {"width": 238, "height": 171,
   "title": {"text": ["ADEMS vs PQube", "True RMS Current"], "dx": 7, "offset": -17},
   "data": {"name": "curr"},
   "layer": [
    {"mark": {"type": "line", "strokeWidth": 1},
     "encoding": {
      "x": {"field": "t", "type": "quantitative", "scale": {"domain": [0, 4980], "range": [23, 231], "nice": false, "zero": false}, "axis": {"offset": -19, "title": "Elapsed Time (s)", "values": [0, 1000, 2000, 3000, 4000], "format": "d"}},
      "y": {"field": "P", "type": "quantitative", "scale": {"domain": [0, 14], "range": [152, 17], "nice": false, "zero": false}, "axis": {"offset": -23, "title": "Current (A)", "values": [0, 2, 4, 6, 8, 10, 12, 14], "format": "d"}},
      "color": {"datum": "PQube", "scale": {"domain": ["PQube", "ADEMS"], "range": ["#3a4cc0", "#2a9140"]}, "legend": {"title": null, "orient": "none", "legendX": 182, "legendY": 22}}
     }},
    {"mark": {"type": "line", "strokeWidth": 1},
     "encoding": {
      "x": {"field": "t", "type": "quantitative", "axis": {"offset": -19, "title": "Elapsed Time (s)", "values": [0, 1000, 2000, 3000, 4000], "format": "d"}},
      "y": {"field": "A", "type": "quantitative", "axis": {"offset": -23, "title": "Current (A)", "values": [0, 2, 4, 6, 8, 10, 12, 14], "format": "d"}},
      "color": {"datum": "ADEMS"}
     }},
    {"data": {"values": [{}]},
     "mark": {"type": "rect", "fillOpacity": 0, "stroke": "#666", "strokeWidth": 0.8},
     "encoding": {"x": {"datum": 0, "axis": {"offset": -19, "title": "Elapsed Time (s)", "values": [0, 1000, 2000, 3000, 4000], "format": "d"}}, "x2": {"datum": 4980}, "y": {"datum": 0, "axis": {"offset": -23, "title": "Current (A)", "values": [0, 2, 4, 6, 8, 10, 12, 14], "format": "d"}}, "y2": {"datum": 14}}}
   ]},
  {"width": 235, "height": 171,
   "title": {"text": ["ADEMS vs PQube", "True RMS Voltage"], "dx": 1.5, "offset": -17},
   "data": {"name": "volt"},
   "layer": [
    {"mark": {"type": "line", "strokeWidth": 1},
     "encoding": {
      "x": {"field": "t", "type": "quantitative", "scale": {"domain": [0, 5000], "range": [26, 229], "nice": false, "zero": false}, "axis": {"offset": -18, "title": "Elapsed Time (s)", "values": [0, 1000, 2000, 3000, 4000], "format": "d"}},
      "y": {"field": "P", "type": "quantitative", "scale": {"domain": [106, 122], "range": [153, 18], "nice": false, "zero": false}, "axis": {"offset": -26, "title": "Voltage (V)", "values": [106, 108, 110, 112, 114, 116, 118, 120, 122], "format": "d"}},
      "color": {"datum": "PQube", "scale": {"domain": ["PQube", "ADEMS"], "range": ["#3a4cc0", "#2a9140"]}, "legend": {"title": null, "orient": "none", "legendX": 186, "legendY": 21}}
     }},
    {"mark": {"type": "line", "strokeWidth": 1},
     "encoding": {
      "x": {"field": "t", "type": "quantitative", "axis": {"offset": -18, "title": "Elapsed Time (s)", "values": [0, 1000, 2000, 3000, 4000], "format": "d"}},
      "y": {"field": "A", "type": "quantitative", "axis": {"offset": -26, "title": "Voltage (V)", "values": [106, 108, 110, 112, 114, 116, 118, 120, 122], "format": "d"}},
      "color": {"datum": "ADEMS"}
     }},
    {"data": {"values": [{}]},
     "mark": {"type": "rect", "fillOpacity": 0, "stroke": "#666", "strokeWidth": 0.8},
     "encoding": {"x": {"datum": 0, "axis": {"offset": -18, "title": "Elapsed Time (s)", "values": [0, 1000, 2000, 3000, 4000], "format": "d"}}, "x2": {"datum": 5000}, "y": {"datum": 106, "axis": {"offset": -26, "title": "Voltage (V)", "values": [106, 108, 110, 112, 114, 116, 118, 120, 122], "format": "d"}}, "y2": {"datum": 122}}}
   ]}
 ], "spacing": 20, "bounds": "flush", "resolve": {"scale": {"color": "independent"}, "legend": {"color": "independent"}}},
 {"hconcat": [
  {"width": 238, "height": 180,
   "title": {"text": ["ADEMS vs PQube", "Frequency"], "dx": 9, "offset": -17},
   "layer": [
    {"data": {"values": [{"a": 59.932}, {"a": 60.04}]},
     "mark": {"type": "line", "stroke": "#777", "strokeDash": [4, 3], "strokeWidth": 1},
     "encoding": {
      "x": {"field": "a", "type": "quantitative", "scale": {"domain": [59.932, 60.04], "range": [33, 222], "nice": false, "zero": false}, "axis": {"offset": -28, "title": "PQube Frequency (Hz)", "values": [59.94, 59.96, 59.98, 60.0, 60.02, 60.04], "format": ".2f"}},
      "y": {"field": "a", "type": "quantitative", "scale": {"domain": [59.932, 60.04], "range": [152, 21], "nice": false, "zero": false}, "axis": {"offset": -33, "title": "ADEMS Frequency (Hz)", "values": [59.94, 59.96, 59.98, 60.0, 60.02, 60.04], "format": ".2f"}}
     }},
    {"data": {"name": "fs"},
     "mark": {"type": "circle", "size": 16, "color": "#111", "opacity": 1},
     "encoding": {"x": {"field": "x", "type": "quantitative", "axis": {"offset": -28, "title": "PQube Frequency (Hz)", "values": [59.94, 59.96, 59.98, 60.0, 60.02, 60.04], "format": ".2f"}}, "y": {"field": "y", "type": "quantitative", "axis": {"offset": -33, "title": "ADEMS Frequency (Hz)", "values": [59.94, 59.96, 59.98, 60.0, 60.02, 60.04], "format": ".2f"}}}},
    {"data": {"values": [{}]},
     "mark": {"type": "rect", "fillOpacity": 0, "stroke": "#666", "strokeWidth": 0.8},
     "encoding": {"x": {"datum": 59.932, "axis": {"offset": -28, "title": "PQube Frequency (Hz)", "values": [59.94, 59.96, 59.98, 60.0, 60.02, 60.04], "format": ".2f"}}, "x2": {"datum": 60.04}, "y": {"datum": 59.932, "axis": {"offset": -33, "title": "ADEMS Frequency (Hz)", "values": [59.94, 59.96, 59.98, 60.0, 60.02, 60.04], "format": ".2f"}}, "y2": {"datum": 60.04}}}
   ]},
  {"width": 238, "height": 180,
   "title": {"text": ["ADEMS vs PQube", "True RMS Current"], "dx": 8, "offset": -17},
   "layer": [
    {"data": {"values": [{"a": 0}, {"a": 14}]},
     "mark": {"type": "line", "stroke": "#777", "strokeDash": [4, 3], "strokeWidth": 1},
     "encoding": {
      "x": {"field": "a", "type": "quantitative", "scale": {"domain": [0, 14], "range": [23, 231], "nice": false, "zero": false}, "axis": {"offset": -27, "title": "PQube Current (A)", "values": [0, 2, 4, 6, 8, 10, 12, 14], "format": "d"}},
      "y": {"field": "a", "type": "quantitative", "scale": {"domain": [0, 14], "range": [153, 18], "nice": false, "zero": false}, "axis": {"offset": -23, "title": "ADEMS Current (A)", "values": [0, 2, 4, 6, 8, 10, 12, 14], "format": "d"}}
     }},
    {"data": {"name": "cs"},
     "mark": {"type": "circle", "size": 10, "color": "#111", "opacity": 1},
     "encoding": {"x": {"field": "x", "type": "quantitative", "axis": {"offset": -27, "title": "PQube Current (A)", "values": [0, 2, 4, 6, 8, 10, 12, 14], "format": "d"}}, "y": {"field": "y", "type": "quantitative", "axis": {"offset": -23, "title": "ADEMS Current (A)", "values": [0, 2, 4, 6, 8, 10, 12, 14], "format": "d"}}}},
    {"data": {"values": [{}]},
     "mark": {"type": "rect", "fillOpacity": 0, "stroke": "#666", "strokeWidth": 0.8},
     "encoding": {"x": {"datum": 0, "axis": {"offset": -27, "title": "PQube Current (A)", "values": [0, 2, 4, 6, 8, 10, 12, 14], "format": "d"}}, "x2": {"datum": 14}, "y": {"datum": 0, "axis": {"offset": -23, "title": "ADEMS Current (A)", "values": [0, 2, 4, 6, 8, 10, 12, 14], "format": "d"}}, "y2": {"datum": 14}}}
   ]},
  {"width": 232, "height": 180,
   "title": {"text": ["ADEMS vs PQube", "True RMS Voltage"], "dx": 11.5, "offset": -17},
   "layer": [
    {"data": {"values": [{"a": 106}, {"a": 122}]},
     "mark": {"type": "line", "stroke": "#777", "strokeDash": [4, 3], "strokeWidth": 1},
     "encoding": {
      "x": {"field": "a", "type": "quantitative", "scale": {"domain": [106, 122], "range": [25, 220], "nice": false, "zero": false}, "axis": {"offset": -27, "title": "PQube Voltage (V)", "values": [106, 108, 110, 112, 114, 116, 118, 120, 122], "format": "d"}},
      "y": {"field": "a", "type": "quantitative", "scale": {"domain": [106, 122], "range": [153, 18], "nice": false, "zero": false}, "axis": {"offset": -25, "title": "ADEMS Voltage (V)", "values": [106, 108, 110, 112, 114, 116, 118, 120, 122], "format": "d"}}
     }},
    {"data": {"name": "vs"},
     "mark": {"type": "circle", "size": 10, "color": "#111", "opacity": 1},
     "encoding": {"x": {"field": "x", "type": "quantitative", "axis": {"offset": -27, "title": "PQube Voltage (V)", "values": [106, 108, 110, 112, 114, 116, 118, 120, 122], "format": "d"}}, "y": {"field": "y", "type": "quantitative", "axis": {"offset": -25, "title": "ADEMS Voltage (V)", "values": [106, 108, 110, 112, 114, 116, 118, 120, 122], "format": "d"}}}},
    {"data": {"values": [{}]},
     "mark": {"type": "rect", "fillOpacity": 0, "stroke": "#666", "strokeWidth": 0.8},
     "encoding": {"x": {"datum": 106, "axis": {"offset": -27, "title": "PQube Voltage (V)", "values": [106, 108, 110, 112, 114, 116, 118, 120, 122], "format": "d"}}, "x2": {"datum": 122}, "y": {"datum": 106, "axis": {"offset": -25, "title": "ADEMS Voltage (V)", "values": [106, 108, 110, 112, 114, 116, 118, 120, 122], "format": "d"}}, "y2": {"datum": 122}}}
   ]}
 ], "spacing": 20, "bounds": "flush"}
]
}
